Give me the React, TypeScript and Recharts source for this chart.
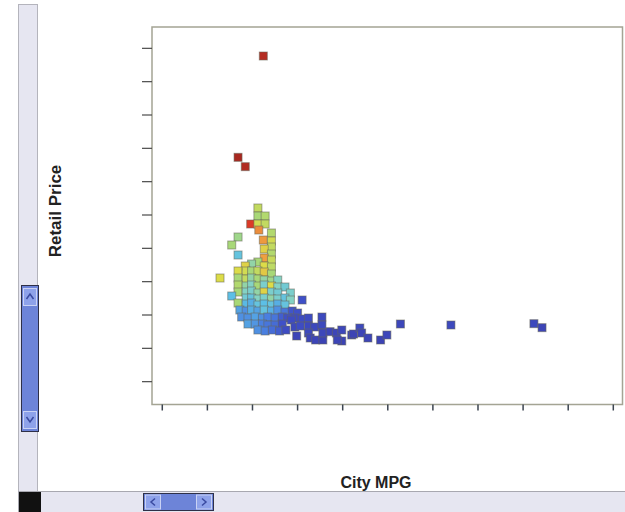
import React from 'react';
import { ScatterChart, Scatter, XAxis, YAxis, ReferenceArea } from 'recharts';

// City MPG (x), Retail Price in $1000 (y), colour level 0..1 (jet colormap)
const cityMpg = [
  21.2, 18.4, 19.2, 20.6, 20.6, 21.4, 19.8, 20.6, 21.4, 20.7,
  22.1, 18.4, 21.2, 22.1, 17.7, 22.1, 21.3, 18.4, 22.1, 21.3,
  22.1, 20.6, 19.9, 19.2, 21.3, 22.1, 18.4, 19.3, 19.9, 20.6,
  21.3, 22.1, 16.4, 18.4, 19.3, 19.9, 20.6, 21.3, 22.1, 22.8,
  18.4, 19.3, 19.9, 20.6, 21.3, 22.1, 22.8, 23.6, 18.4, 19.3,
  19.9, 20.6, 21.3, 22.1, 22.8, 24.2, 17.7, 19.3, 19.9, 20.6,
  21.3, 22.1, 22.8, 23.6, 24.2, 18.4, 19.3, 19.9, 20.6, 21.3,
  22.1, 22.8, 23.6, 25.5, 18.6, 19.3, 19.9, 20.6, 21.3, 22.1,
  22.8, 23.6, 24.4, 25.0, 18.8, 19.5, 20.3, 21.1, 21.7, 22.5,
  23.3, 23.9, 24.7, 25.5, 26.2, 27.7, 19.5, 20.3, 21.1, 21.7,
  22.5, 23.3, 24.3, 24.7, 25.3, 26.2, 26.9, 27.7, 20.6, 21.4,
  22.2, 23.0, 23.7, 24.9, 26.2, 26.4, 27.0, 27.8, 27.8, 28.6,
  29.3, 29.9, 29.9, 29.4, 31.0, 31.2, 31.9, 32.1, 32.8, 34.2,
  34.9, 36.4, 42.0, 51.2, 52.1,
];

const retailPrice = [
  195.4, 134.6, 129.0, 104.2, 99.4, 99.4, 94.6, 94.6, 94.6, 91.0,
  89.2, 86.8, 85.0, 84.4, 82.0, 80.8, 79.6, 76.0, 76.6, 74.2,
  73.0, 71.8, 70.6, 69.4, 69.4, 68.8, 66.4, 66.4, 66.4, 66.4,
  65.8, 64.6, 62.2, 62.2, 61.6, 62.2, 61.6, 61.0, 60.4, 61.0,
  58.0, 57.4, 58.0, 57.4, 58.0, 57.4, 56.8, 56.8, 53.8, 53.8,
  54.4, 53.2, 53.8, 53.8, 53.2, 53.2, 51.4, 50.2, 50.2, 49.6,
  50.2, 49.6, 49.6, 50.2, 49.0, 47.2, 46.6, 47.2, 46.0, 46.6,
  46.0, 46.6, 46.0, 49.0, 43.0, 42.4, 43.0, 42.4, 43.0, 42.4,
  43.0, 41.8, 42.4, 41.2, 38.8, 38.2, 38.8, 38.2, 38.8, 38.2,
  38.8, 38.2, 38.2, 37.6, 38.2, 38.8, 34.6, 34.6, 34.6, 34.0,
  34.0, 34.6, 37.0, 32.8, 33.4, 33.4, 32.8, 34.0, 31.0, 30.4,
  31.0, 30.4, 31.0, 27.4, 29.2, 26.2, 25.0, 25.0, 29.2, 30.0,
  29.2, 31.0, 24.4, 25.0, 28.0, 28.6, 32.2, 29.2, 26.2, 25.0,
  28.0, 34.6, 34.0, 34.8, 32.4,
];

const colorLevel = [
  0.97, 1.0, 0.98, 0.55, 0.5, 0.52, 0.88, 0.58, 0.55, 0.75,
  0.52, 0.48, 0.73, 0.58, 0.5, 0.55, 0.62, 0.35, 0.52, 0.72,
  0.56, 0.5, 0.45, 0.62, 0.6, 0.54, 0.6, 0.58, 0.5, 0.55,
  0.64, 0.5, 0.6, 0.5, 0.55, 0.45, 0.5, 0.45, 0.48, 0.42,
  0.52, 0.45, 0.42, 0.5, 0.4, 0.6, 0.42, 0.38, 0.5, 0.42,
  0.4, 0.45, 0.62, 0.4, 0.38, 0.4, 0.33, 0.38, 0.35, 0.42,
  0.4, 0.45, 0.4, 0.35, 0.42, 0.5, 0.32, 0.3, 0.35, 0.33,
  0.35, 0.3, 0.35, 0.12, 0.28, 0.25, 0.3, 0.28, 0.35, 0.3,
  0.25, 0.2, 0.13, 0.12, 0.25, 0.25, 0.28, 0.25, 0.22, 0.2,
  0.15, 0.12, 0.1, 0.1, 0.1, 0.08, 0.28, 0.26, 0.22, 0.2,
  0.18, 0.12, 0.1, 0.08, 0.1, 0.08, 0.08, 0.08, 0.25, 0.22,
  0.18, 0.15, 0.1, 0.06, 0.08, 0.06, 0.06, 0.05, 0.07, 0.06,
  0.06, 0.07, 0.05, 0.06, 0.06, 0.05, 0.08, 0.06, 0.06, 0.05,
  0.07, 0.07, 0.08, 0.08, 0.06,
];

const xTicks = [10, 15, 20, 25, 30, 35, 40, 45, 50, 55, 60];
const yTicks = [0, 20, 40, 60, 80, 100, 120, 140, 160, 180, 200];
const xDomain: [number, number] = [8.86, 61.02];
const yDomain: [number, number] = [-13.7, 212.8];

const colorStops: [number, string][] = [
  [0.0, '#3a3aa6'],
  [0.12, '#3f50c8'],
  [0.22, '#4a7fe0'],
  [0.33, '#5cbfe6'],
  [0.42, '#84d2c4'],
  [0.5, '#a8d878'],
  [0.6, '#dcdc48'],
  [0.72, '#eea040'],
  [0.88, '#dc3a28'],
  [1.0, '#a82820'],
];

function hexToRgb(h: string) {
  return [1, 3, 5].map((i) => parseInt(h.slice(i, i + 2), 16));
}

function jet(v: number) {
  for (let i = 0; i < colorStops.length - 1; i++) {
    const [a, ca] = colorStops[i];
    const [b, cb] = colorStops[i + 1];
    if (v >= a && v <= b) {
      const t = (v - a) / (b - a);
      const A = hexToRgb(ca);
      const B = hexToRgb(cb);
      const c = A.map((x, k) => Math.round(x + (B[k] - x) * t));
      return `rgb(${c[0]},${c[1]},${c[2]})`;
    }
  }
  return colorStops[colorStops.length - 1][1];
}

const data = cityMpg.map((x, i) => ({ mpg: x, price: retailPrice[i], level: colorLevel[i] }));

const Square = (props: any) => {
  const { cx, cy, payload } = props;
  if (cx == null || cy == null) return null;
  return (
    <rect
      x={cx - 4}
      y={cy - 4}
      width={8}
      height={8}
      fill={jet(payload.level)}
      stroke="#66665a"
      strokeOpacity={0.55}
      strokeWidth={1}
    />
  );
};

const NoLabel = () => <g />;

const font = '"Liberation Sans", Arial, Helvetica, sans-serif';

export default function App() {
  return (
    <div style={{ position: 'absolute', left: 0, top: 0, width: 625, height: 512, background: '#ffffff', overflow: 'hidden' }}>
      <ScatterChart width={625} height={512} margin={{ top: 27, right: 2.5, bottom: 101.5, left: 142 }}>
        <XAxis
          type="number"
          dataKey="mpg"
          domain={xDomain}
          ticks={xTicks}
          allowDataOverflow
          height={6}
          axisLine={false}
          tick={NoLabel}
          tickSize={6}
          tickLine={{ stroke: '#3c4450', strokeWidth: 1.5 }}
        />
        <YAxis
          type="number"
          dataKey="price"
          domain={yDomain}
          ticks={yTicks}
          allowDataOverflow
          width={10}
          axisLine={false}
          tick={NoLabel}
          tickSize={10}
          tickLine={{ stroke: '#4a4a4a', strokeWidth: 1.2 }}
        />
        <ReferenceArea
          x1={xDomain[0]}
          x2={xDomain[1]}
          y1={yDomain[0]}
          y2={yDomain[1]}
          fill="none"
          stroke="#a4a494"
          strokeWidth={1.5}
          ifOverflow="visible"
        />
        <Scatter data={data} shape={Square} isAnimationActive={false} />
      </ScatterChart>
      <svg width={625} height={512} style={{ position: 'absolute', left: 0, top: 0, pointerEvents: 'none' }}>
        <text
          x={55}
          y={211}
          transform="rotate(-90 55 211)"
          textAnchor="middle"
          dominantBaseline="central"
          fontFamily={font}
          fontSize={17}
          fontWeight="bold"
          fill="#222222"
        >
          Retail Price
        </text>
        <text x={376} y={482} textAnchor="middle" dominantBaseline="central" fontFamily={font} fontSize={16} fontWeight="bold" fill="#222222">
          City MPG
        </text>

        {/* vertical scrollbar */}
        <rect x={18.5} y={4.5} width={19} height={487} fill="#e6e6f1" stroke="#b4b4bc" />
        <rect x={21.5} y={285.5} width={17} height={146} fill="#6d84d8" stroke="#2e3048" />
        <rect x={23.5} y={288.5} width={13} height={17} fill="#8ea2ea" stroke="#c9d2f4" />
        <polyline points="26.5,299 30,294 33.5,299" fill="none" stroke="#3a4aa0" strokeWidth={1.5} />
        <rect x={23.5} y={411.5} width={13} height={17} fill="#8ea2ea" stroke="#c9d2f4" />
        <polyline points="26.5,417 30,422 33.5,417" fill="none" stroke="#3a4aa0" strokeWidth={1.5} />

        {/* horizontal scrollbar */}
        <rect x={18.5} y={491.5} width={610} height={22} fill="#e6e6f1" stroke="#a8a8b0" />
        <rect x={19} y={492} width={22} height={20} fill="#111111" />
        <rect x={143.5} y={493.5} width={70} height={17} fill="#6d84d8" stroke="#2e3048" />
        <rect x={145.5} y={495} width={15} height={14} fill="#8ea2ea" stroke="#c9d2f4" />
        <polyline points="155,498.5 151,502 155,505.5" fill="none" stroke="#3a4aa0" strokeWidth={1.5} />
        <rect x={196.5} y={495} width={15} height={14} fill="#8ea2ea" stroke="#c9d2f4" />
        <polyline points="202,498.5 206,502 202,505.5" fill="none" stroke="#3a4aa0" strokeWidth={1.5} />
      </svg>
    </div>
  );
}
